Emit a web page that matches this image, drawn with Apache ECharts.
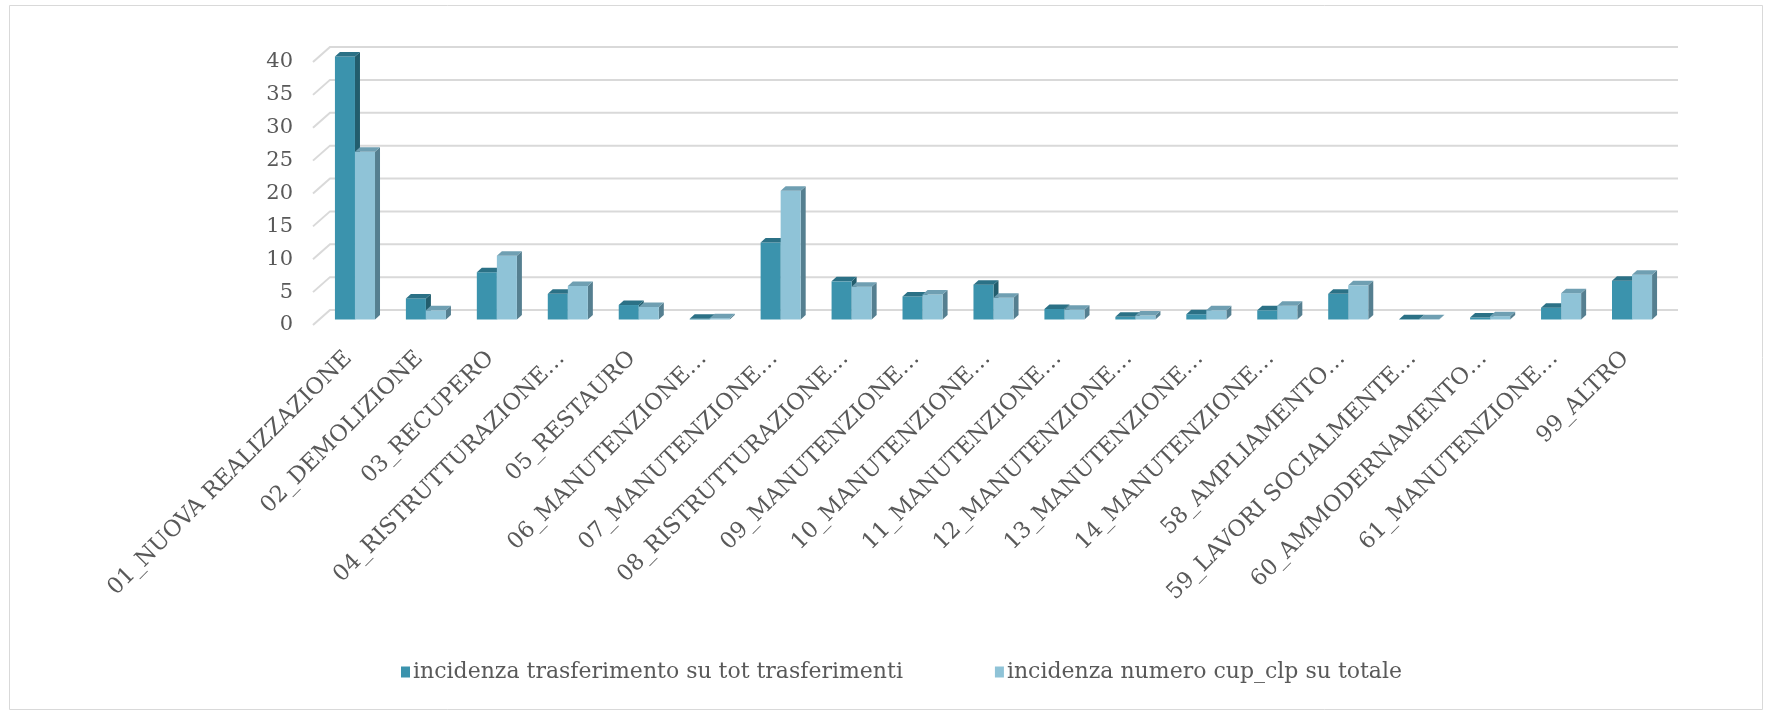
<!DOCTYPE html>
<html>
<head>
<meta charset="utf-8">
<style>
  html, body { margin: 0; padding: 0; background: #ffffff; }
  #chart { width: 1771px; height: 714px; }
</style>
<script src="https://cdn.jsdelivr.net/npm/echarts@6/dist/echarts.min.js"></script>
</head>
<body>
<div id="chart"></div>
<script>
// Categories of intervention
const categories = [
  '01_NUOVA REALIZZAZIONE',
  '02_DEMOLIZIONE',
  '03_RECUPERO',
  '04_RISTRUTTURAZIONE…',
  '05_RESTAURO',
  '06_MANUTENZIONE…',
  '07_MANUTENZIONE…',
  '08_RISTRUTTURAZIONE…',
  '09_MANUTENZIONE…',
  '10_MANUTENZIONE…',
  '11_MANUTENZIONE…',
  '12_MANUTENZIONE…',
  '13_MANUTENZIONE…',
  '14_MANUTENZIONE…',
  '58_AMPLIAMENTO…',
  '59_LAVORI SOCIALMENTE…',
  '60_AMMODERNAMENTO…',
  '61_MANUTENZIONE…',
  '99_ALTRO'
];

// Share of transfers over total transfers (%)
const incidenzaTrasferimento = [40, 3.2, 7.2, 3.9, 2.2, 0.1, 11.7, 5.8, 3.5, 5.3, 1.6, 0.4, 0.8, 1.4, 3.9, 0.05, 0.3, 1.8, 5.9];
// Share of cup_clp count over total (%)
const incidenzaNumero = [25.5, 1.4, 9.7, 5.1, 1.9, 0.2, 19.6, 5.0, 3.8, 3.3, 1.5, 0.6, 1.4, 2.1, 5.2, 0.05, 0.5, 4.0, 6.8];

const seriesNames = [
  'incidenza trasferimento su tot trasferimenti',
  'incidenza numero cup_clp su totale'
];

// Value axis ticks
const yTicks = [0, 5, 10, 15, 20, 25, 30, 35, 40];

// 3D look: wall depth, bar depth and placement of bars inside the depth
const WALL_DX = 17, WALL_DY = 15;
const BAR_SHIFT_X = 6.5, BAR_SHIFT_Y = -5.5;
const BAR_DX = 5, BAR_DY = 4.5;
const BAR_FRACTION = 0.2824;

const FONT = 'DejaVu Serif';
const TEXT_COLOR = '#595959';

const palettes = [
  { front: '#3b93ad', top: '#2b7186', side: '#225d6d' },
  { front: '#8fc3d7', top: '#6f9fb2', side: '#557f90' }
];

function bar3d(seriesIdx) {
  const pal = palettes[seriesIdx];
  return function (params, api) {
    const cat = api.value(0);
    const val = api.value(1);
    const base = api.coord([cat, 0]);
    const top = api.coord([cat, val]);
    const bw = api.size([1, 0])[0] * BAR_FRACTION;
    const x0 = base[0] - bw + seriesIdx * bw + BAR_SHIFT_X;
    const x1 = x0 + bw;
    const yb = base[1] + BAR_SHIFT_Y;
    const yt = top[1] + BAR_SHIFT_Y;
    return {
      type: 'group',
      children: [
        {
          type: 'polygon',
          shape: { points: [[x1, yt], [x1 + BAR_DX, yt - BAR_DY], [x1 + BAR_DX, yb - BAR_DY], [x1, yb]] },
          style: { fill: pal.side }
        },
        {
          type: 'rect',
          shape: { x: x0, y: yt, width: bw, height: Math.max(yb - yt, 0) },
          style: { fill: pal.front }
        },
        {
          type: 'polygon',
          shape: { points: [[x0, yt], [x0 + BAR_DX, yt - BAR_DY], [x1 + BAR_DX, yt - BAR_DY], [x1, yt]] },
          style: { fill: pal.top }
        }
      ]
    };
  };
}

// Back wall gridlines with the short slanted segment on the side wall
function wallLine(params, api) {
  const cs = params.coordSys;
  const y = api.coord([0, api.value(1)])[1];
  return {
    type: 'polyline',
    shape: {
      points: [
        [cs.x, y],
        [cs.x + WALL_DX, y - WALL_DY],
        [cs.x + cs.width + WALL_DX, y - WALL_DY]
      ]
    },
    style: { stroke: '#d9d9d9', lineWidth: 2, fill: null }
  };
}

const chart = echarts.init(document.getElementById('chart'));

chart.setOption({
  backgroundColor: '#ffffff',
  animation: false,
  textStyle: { fontFamily: FONT },
  graphic: [
    {
      type: 'rect',
      shape: { x: 9.5, y: 5.5, width: 1753, height: 704 },
      style: { fill: null, stroke: '#d9d9d9', lineWidth: 1 },
      silent: true,
      z: -10
    }
  ],
  grid: { left: 313, right: 110, top: 62, bottom: 389 },
  legend: {
    data: seriesNames,
    left: 396,
    top: 656,
    icon: 'rect',
    itemWidth: 9,
    itemHeight: 11,
    itemGap: 92,
    textStyle: { fontFamily: FONT, fontSize: 22, color: TEXT_COLOR, padding: [0, 0, 0, -2] }
  },
  xAxis: {
    type: 'category',
    data: categories,
    axisLine: { show: false },
    axisTick: { show: false },
    axisLabel: {
      interval: 0,
      rotate: 45,
      margin: 30,
      fontFamily: FONT,
      fontSize: 22.5,
      color: TEXT_COLOR
    }
  },
  yAxis: {
    type: 'value',
    min: 0,
    max: 40,
    interval: 5,
    axisLine: { show: false },
    axisTick: { show: false },
    splitLine: { show: false },
    axisLabel: {
      margin: 20,
      fontFamily: FONT,
      fontSize: 21,
      color: TEXT_COLOR
    }
  },
  series: [
    {
      name: 'wall',
      type: 'custom',
      renderItem: wallLine,
      data: yTicks.map(v => [0, v]),
      encode: { x: 0, y: 1 },
      silent: true,
      z: 1
    },
    {
      name: seriesNames[0],
      type: 'custom',
      renderItem: bar3d(0),
      itemStyle: { color: palettes[0].front },
      data: incidenzaTrasferimento.map((v, i) => [i, v]),
      encode: { x: 0, y: 1 },
      z: 2
    },
    {
      name: seriesNames[1],
      type: 'custom',
      renderItem: bar3d(1),
      itemStyle: { color: palettes[1].front },
      data: incidenzaNumero.map((v, i) => [i, v]),
      encode: { x: 0, y: 1 },
      z: 3
    }
  ]
});
</script>
</body>
</html>
